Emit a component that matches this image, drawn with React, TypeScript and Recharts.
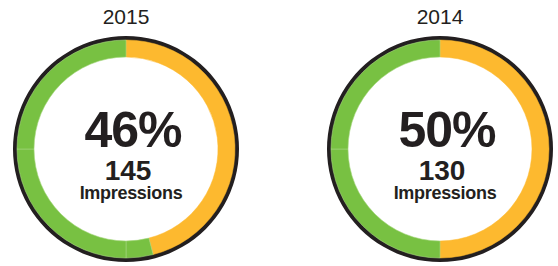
import { PieChart, Pie, Cell } from 'recharts';

const years = ['2015', '2014'];
const percents = [46, 50];
const impressions = [145, 130];

const ORANGE = '#FDB92F';
const GREEN = '#78C142';
const RING = '#231F20';
const TEXT = '#231F20';

const CENTERS = [
  { cx: 126, cy: 149 },
  { cx: 440, cy: 149 },
];

// orange share first, then green split at the quarter marks (thin seams in the original)
function slices(pct: number) {
  const out = [{ name: 'share', value: pct, color: ORANGE }];
  let start = pct;
  for (const mark of [50, 75, 100]) {
    if (mark > start) {
      out.push({ name: 'rest', value: mark - start, color: GREEN });
      start = mark;
    }
  }
  return out;
}

function CenterText({ i }: { i: number }) {
  const { cx, cy } = CENTERS[i];
  return (
    <g fontFamily="'Liberation Sans', Arial, sans-serif" fill={TEXT} textAnchor="middle">
      <text x={cx} y={cy - 125} fontSize={21}>
        {years[i]}
      </text>
      <text x={cx + 7} y={cy - 2} fontSize={50} fontWeight="bold" letterSpacing={-1}>
        {percents[i]}%
      </text>
      <text x={cx + 2} y={cy + 31} fontSize={28} fontWeight="bold">
        {impressions[i]}
      </text>
      <text x={cx + 5} y={cy + 50} fontSize={18} fontWeight="bold" letterSpacing={-0.3}>
        Impressions
      </text>
    </g>
  );
}

export default function App() {
  return (
    <div style={{ position: 'absolute', left: 0, top: 0, background: '#fff' }}>
      <PieChart width={558} height={266} margin={{ top: 0, right: 0, bottom: 0, left: 0 }}>
        {years.map((y, i) => (
          <Pie
            key={'ring' + y}
            data={[{ value: 1 }]}
            dataKey="value"
            cx={CENTERS[i].cx}
            cy={CENTERS[i].cy}
            innerRadius={108}
            outerRadius={113}
            startAngle={90}
            endAngle={-270}
            stroke="none"
            fill={RING}
            isAnimationActive={false}
          />
        ))}
        {years.map((y, i) => (
          <Pie
            key={'pie' + y}
            data={slices(percents[i])}
            dataKey="value"
            cx={CENTERS[i].cx}
            cy={CENTERS[i].cy}
            innerRadius={92}
            outerRadius={109}
            startAngle={90}
            endAngle={-270}
            paddingAngle={0}
            isAnimationActive={false}
          >
            {slices(percents[i]).map((s, j) => (
              <Cell
                key={j}
                fill={s.color}
                stroke={s.color === GREEN ? '#A6D67F' : s.color}
                strokeWidth={s.color === GREEN ? 0.6 : 0.5}
              />
            ))}
          </Pie>
        ))}
        {years.map((y, i) => (
          <CenterText key={'txt' + y} i={i} />
        ))}
      </PieChart>
    </div>
  );
}
